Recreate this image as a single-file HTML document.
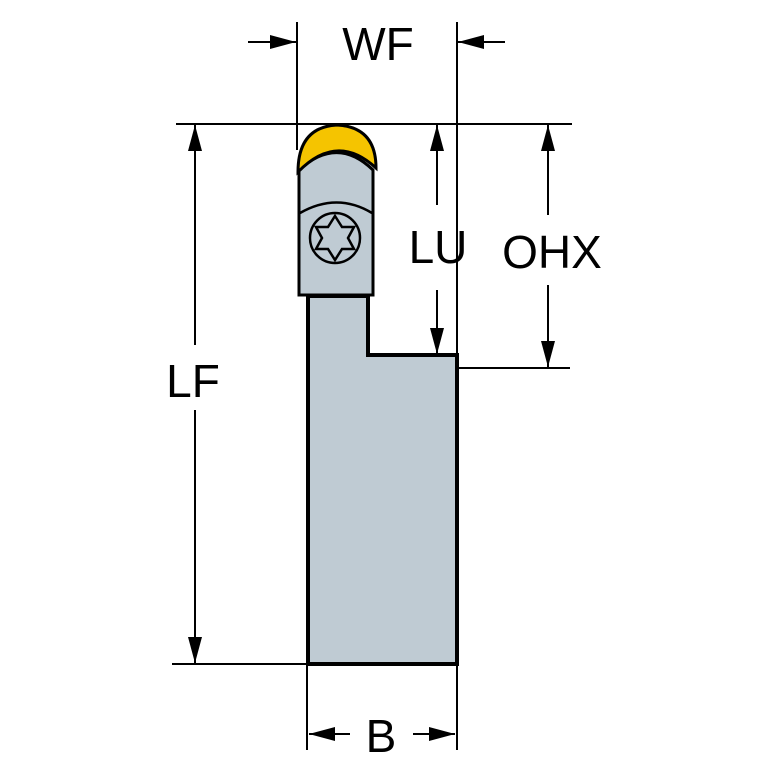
<!DOCTYPE html>
<html><head><style>html,body{margin:0;padding:0;background:#fff}svg{display:block}</style></head><body>
<svg width="767" height="767" viewBox="0 0 767 767" xmlns="http://www.w3.org/2000/svg">
<defs>
<marker id="a" viewBox="0 0 26 14" refX="26" refY="7" markerWidth="26" markerHeight="14" markerUnits="userSpaceOnUse" orient="auto"><path d="M0,0L26,7L0,14z" fill="#000"/></marker>
</defs>
<g stroke="#000" stroke-width="3">
<path d="M308,296 L368,296 L368,355 L457,355 L457,664 L308,664 Z" fill="#bfcbd3" stroke-width="4"/>
<path d="M299,170 L299,295 L373,295 L373,170 Q337,135 299,170 Z" fill="#bfcbd3" stroke-width="3"/>
<path d="M298,172 Q298,127 337,125 Q376,127 376,168 Q337,132 298,172 Z" fill="#f5c400" stroke-width="3"/>
<path d="M300,213 Q337,192 372,213" fill="none" stroke-width="2.5"/>
<circle cx="335" cy="238" r="25" fill="none" stroke-width="2.5"/>
<path d="M335,216 L342,227 L354,227 L348,238 L354,249 L342,249 L335,260 L328,249 L316,249 L322,238 L316,227 L328,227 Z" fill="none" stroke-width="2.5"/>
</g>
<g stroke="#000" stroke-width="2" fill="none">
<line x1="176" y1="124" x2="572" y2="124"/>
<line x1="297" y1="22" x2="297" y2="150"/>
<line x1="457" y1="22" x2="457" y2="355"/>
<line x1="457" y1="368" x2="570" y2="368"/>
<line x1="172" y1="664" x2="307" y2="664"/>
<line x1="307" y1="664" x2="307" y2="750"/>
<line x1="457" y1="664" x2="457" y2="750"/>
<line x1="248" y1="42" x2="296" y2="42" marker-end="url(#a)"/>
<line x1="505" y1="42" x2="458" y2="42" marker-end="url(#a)"/>
<line x1="437" y1="205" x2="437" y2="125" marker-end="url(#a)"/>
<line x1="437" y1="290" x2="437" y2="354" marker-end="url(#a)"/>
<line x1="548" y1="215" x2="548" y2="125" marker-end="url(#a)"/>
<line x1="548" y1="285" x2="548" y2="367" marker-end="url(#a)"/>
<line x1="195" y1="345" x2="195" y2="125" marker-end="url(#a)"/>
<line x1="195" y1="410" x2="195" y2="663" marker-end="url(#a)"/>
<line x1="350" y1="734" x2="309" y2="734" marker-end="url(#a)"/>
<line x1="413" y1="734" x2="455" y2="734" marker-end="url(#a)"/>
</g>
<g font-family="Liberation Sans, sans-serif" font-size="46" text-anchor="middle" fill="#000">
<text x="378" y="60">WF</text>
<text x="438" y="263">LU</text>
<text x="552" y="268">OHX</text>
<text x="193" y="397">LF</text>
<text x="381" y="752">B</text>
</g>
</svg>
</body></html>
